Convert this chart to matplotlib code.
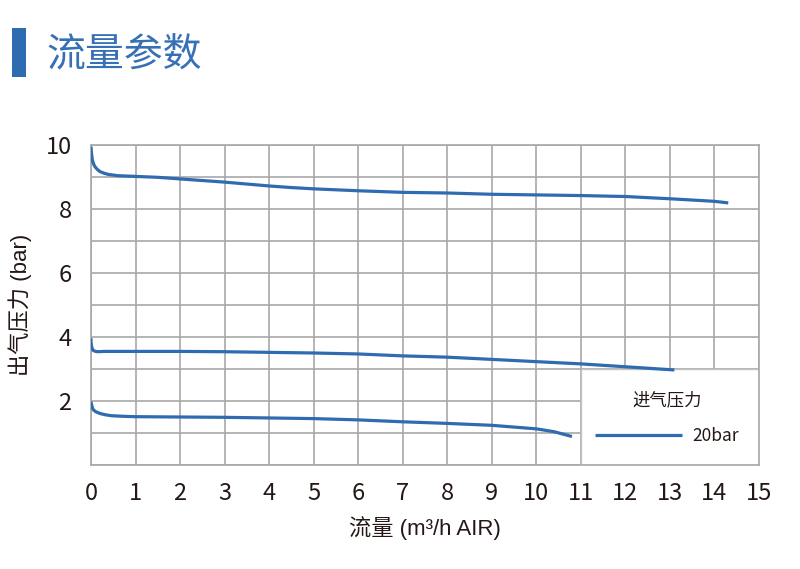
import matplotlib
matplotlib.use("Agg")
import matplotlib.pyplot as plt
from matplotlib.patches import Rectangle

plt.rcParams['font.family'] = ['Noto Sans CJK SC', 'DejaVu Sans']

# Data
x_top = [0.0, 0.01, 0.03, 0.06, 0.09, 0.14, 0.2, 0.29, 0.39, 0.5, 0.61, 0.8, 0.97, 1.5, 2, 2.5, 3, 3.5, 4, 4.5, 5, 6, 7, 8, 9, 10, 11, 12, 13, 14, 14.31]
y_top = [9.95, 9.75, 9.53, 9.40, 9.32, 9.24, 9.17, 9.12, 9.08, 9.06, 9.04, 9.03, 9.02, 8.99, 8.94, 8.89, 8.84, 8.78, 8.72, 8.67, 8.63, 8.57, 8.52, 8.50, 8.46, 8.44, 8.42, 8.39, 8.32, 8.24, 8.19]

x_mid = [0.0, 0.0, 0.01, 0.03, 0.05, 0.1, 0.16, 0.3, 1, 2, 3, 4, 5, 6, 7, 8, 9, 10, 11, 12, 13.1]
y_mid = [3.96, 3.85, 3.72, 3.63, 3.58, 3.55, 3.54, 3.55, 3.55, 3.55, 3.54, 3.52, 3.50, 3.47, 3.41, 3.37, 3.30, 3.23, 3.16, 3.07, 2.97]

x_low = [0.0, 0.01, 0.03, 0.05, 0.1, 0.2, 0.32, 0.46, 0.6, 0.76, 1, 2, 3, 4, 5, 6, 7, 8, 9, 10, 10.4, 10.8]
y_low = [1.98, 1.90, 1.80, 1.73, 1.67, 1.61, 1.57, 1.54, 1.53, 1.52, 1.51, 1.50, 1.49, 1.47, 1.45, 1.41, 1.35, 1.30, 1.24, 1.13, 1.04, 0.89]

x_ticks = list(range(0, 16))
y_ticks = list(range(0, 11))
y_ticklabels = ['' if (v % 2 or v == 0) else str(v) for v in y_ticks]

title = "流量参数"
xlabel = "流量 (m³/h AIR)"
ylabel = "出气压力 (bar)"
legend_title = "进气压力"
legend_label = "20bar"

line_color = '#2e6bb0'
grid_color = '#a8a8a8'
text_color = '#231815'
label_family = ['Liberation Sans', 'Noto Sans CJK SC']

fig = plt.figure(figsize=(8, 5.69), dpi=100)
ax = fig.add_axes([91/800, 1-465/569, (759-91)/800, (465-145)/569])

ax.plot(x_top, y_top, color=line_color, lw=2.3, label=legend_label, zorder=3,
        solid_capstyle='butt', solid_joinstyle='round')
ax.plot(x_mid, y_mid, color=line_color, lw=2.3, zorder=3,
        solid_capstyle='butt', solid_joinstyle='round')
ax.plot(x_low, y_low, color=line_color, lw=2.3, zorder=3,
        solid_capstyle='butt', solid_joinstyle='round')

ax.set_xlim(0, 15)
ax.set_ylim(0, 10)
ax.set_xticks(x_ticks)
ax.set_yticks(y_ticks)
ax.set_yticklabels(y_ticklabels)
ax.tick_params(length=0, labelsize=17, colors=text_color)
ax.tick_params(axis='x', pad=12)
ax.tick_params(axis='y', pad=14)
ax.set_axisbelow(True)
ax.grid(True, color=grid_color, lw=1.2)
for s in ax.spines.values():
    s.set_color(grid_color)
    s.set_linewidth(1.2)

# white legend area covering grid
ax.add_patch(Rectangle((11, 0), 4, 3, facecolor='white', edgecolor='#c4c4c4', lw=1.0, zorder=1))

leg = ax.legend(title=legend_title, loc='center', bbox_to_anchor=(0.862, 0.147),
                frameon=False, fontsize=12.5, title_fontsize=12.5, handlelength=5.0,
                handletextpad=0.6, borderaxespad=0)
leg._legend_box.sep = 13
for t in leg.get_texts():
    t.set_color(text_color)
leg.get_title().set_color(text_color)

ax.set_xlabel(xlabel, fontsize=16, color=text_color, labelpad=8, family=label_family)
ax.set_ylabel(ylabel, fontsize=16, color=text_color, labelpad=10, family=label_family)

# title block
fig.patches.append(Rectangle((12/800, 1-77/569), 14/800, 49/569, transform=fig.transFigure,
                             facecolor='#2f6bb1', edgecolor='none'))
fig.text(46/800, 1-55/569, title, fontsize=28, color='#3770b5', va='center', ha='left')

fig.savefig('out.png', dpi=100)
